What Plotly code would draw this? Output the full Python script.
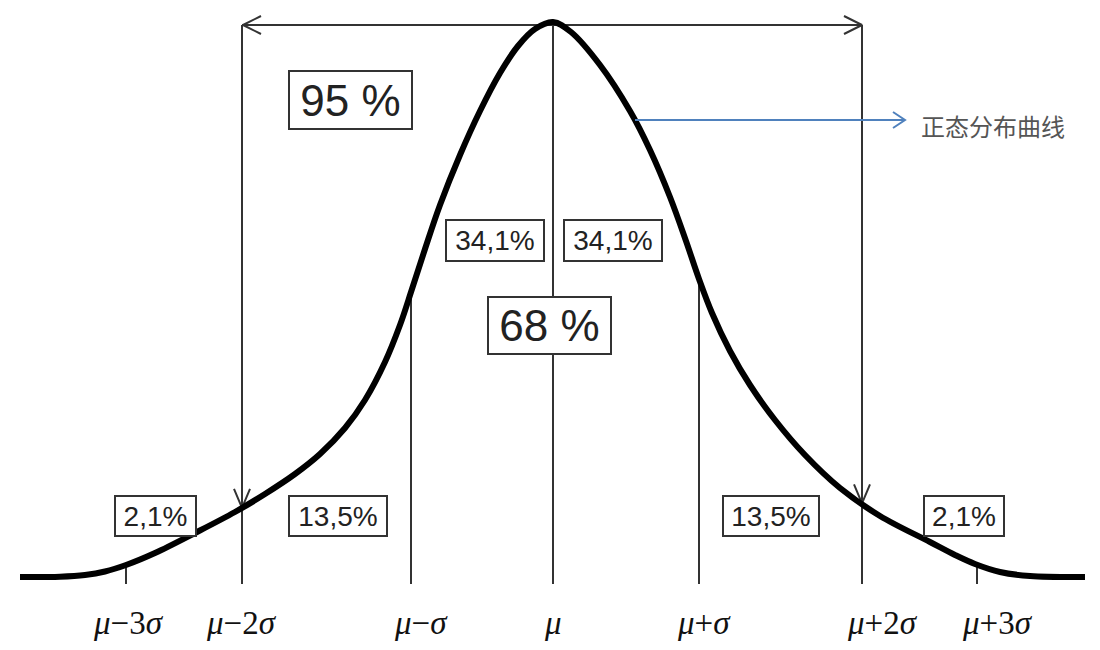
import numpy as np
import plotly.graph_objects as go

# ---- data ----
# curve: horizontal position (px) and height above the baseline (px)
curve_x = [20, 60, 85, 105, 126, 155, 195, 235, 265, 295, 320, 345, 365, 385, 400, 412, 425,
           440, 460, 480, 500, 518, 535, 553,
           571, 600, 630, 650, 670, 686, 699, 712, 730, 750, 775, 805, 840, 880, 930, 955,
           975, 1000, 1030, 1085]
curve_h = [0, 0.3, 2, 5.5, 12, 24, 44, 65, 83, 103, 123, 149, 177, 215, 252, 288, 328,
           372, 422, 466, 504, 531, 548, 555,
           545, 512, 466, 427, 380, 336, 298, 264, 226, 192, 157, 122, 89, 61, 35, 22,
           13, 5, 1, 0]

# positions of mu +/- k sigma along the baseline
sigma_names = ["μ−3σ", "μ−2σ", "μ−σ", "μ", "μ+σ", "μ+2σ", "μ+3σ"]
sigma_x = [126, 242, 411, 553, 699, 862, 977]
sigma_labels = ["<i>μ</i>−3<i>σ</i>", "<i>μ</i>−2<i>σ</i>", "<i>μ</i>−<i>σ</i>", "<i>μ</i>",
                "<i>μ</i>+<i>σ</i>", "<i>μ</i>+2<i>σ</i>", "<i>μ</i>+3<i>σ</i>"]
label_x = [128, 241, 421, 553, 704, 882, 997]

# percentage boxes
pct_text = ["95 %", "34,1%", "34,1%", "68 %", "2,1%", "13,5%", "13,5%", "2,1%"]
pct_x = [350.5, 495, 613, 549.5, 155.5, 338, 771, 964]
pct_y = [477, 336.5, 336.5, 251.5, 61, 61, 61, 61]
pct_w = [125, 100, 100, 125, 83, 100, 98, 82]
pct_h = [60, 43, 43, 59, 42, 42, 42, 42]
pct_size = [44, 28, 28, 44, 28, 28, 28, 28]

curve_label = "正态分布曲线"

# ---- figure ----
LINE_C = "#333333"
bottom = -7
top_arrow = 552

fig = go.Figure()


def add_line(xs, ys, color=LINE_C, width=2):
    fig.add_trace(go.Scatter(x=xs, y=ys, mode="lines",
                             line=dict(color=color, width=width),
                             hoverinfo="skip", showlegend=False))


def curve_at(x):
    return float(np.interp(x, curve_x, curve_h))


# vertical lines
for name, x in zip(sigma_names, sigma_x):
    if "2" in name:
        ytop = top_arrow
    else:
        ytop = curve_at(x)
    add_line([x, x], [ytop, bottom])

# top double arrow
add_line([sigma_x[1], sigma_x[5]], [top_arrow, top_arrow])
for tipx, d in [(sigma_x[1] + 1, 1), (sigma_x[5], -1)]:
    add_line([tipx + d * 18, tipx, tipx + d * 18], [top_arrow + 9, top_arrow, top_arrow - 9])

# down arrows on the +/-2 sigma lines, tip at the curve
for x in (sigma_x[1], sigma_x[5]):
    h = curve_at(x)
    add_line([x - 8, x, x + 8], [h + 19, h, h + 19])

# the curve
fig.add_trace(go.Scatter(x=curve_x, y=curve_h, mode="lines",
                         line=dict(color="black", width=6, shape="spline", smoothing=1.0),
                         hoverinfo="skip", showlegend=False))

# blue pointer arrow
BLUE = "#4f81bd"
ay = 457
add_line([635, 905], [ay, ay], color=BLUE, width=2)
add_line([893, 905, 893], [ay + 8, ay, ay - 8], color=BLUE, width=2)

annotations = []
for t, x, y, w, h, s in zip(pct_text, pct_x, pct_y, pct_w, pct_h, pct_size):
    bw = 2
    annotations.append(dict(
        x=x, y=y, xref="x", yref="y", text=t, showarrow=False,
        font=dict(family="Liberation Sans, Arial", size=s, color="#222222"),
        bgcolor="white", bordercolor=LINE_C, borderwidth=bw, borderpad=0,
        width=w - 2 * bw, height=h - 2 * bw, align="center", valign="middle",
        xanchor="center", yanchor="middle"))

for t, x in zip(sigma_labels, label_x):
    annotations.append(dict(
        x=x, y=-46, xref="x", yref="y", text=t, showarrow=False,
        font=dict(family="Liberation Serif, Times New Roman", size=33, color="#111111"),
        xanchor="center", yanchor="middle"))

annotations.append(dict(
    x=993, y=452, xref="x", yref="y", text=curve_label, showarrow=False,
    font=dict(family="Noto Sans CJK SC", size=24, color="#555555"),
    xanchor="center", yanchor="middle"))

# the page body has an 8 px margin: the figure fills the rest of the window
fig.update_layout(
    width=1092, height=642,
    margin=dict(l=0, r=0, t=0, b=0),
    paper_bgcolor="white", plot_bgcolor="white",
    xaxis=dict(range=[8, 1100], visible=False, fixedrange=True),
    yaxis=dict(range=[-73, 569], visible=False, fixedrange=True),
    annotations=annotations,
    showlegend=False,
)

fig.write_html("out.html")
